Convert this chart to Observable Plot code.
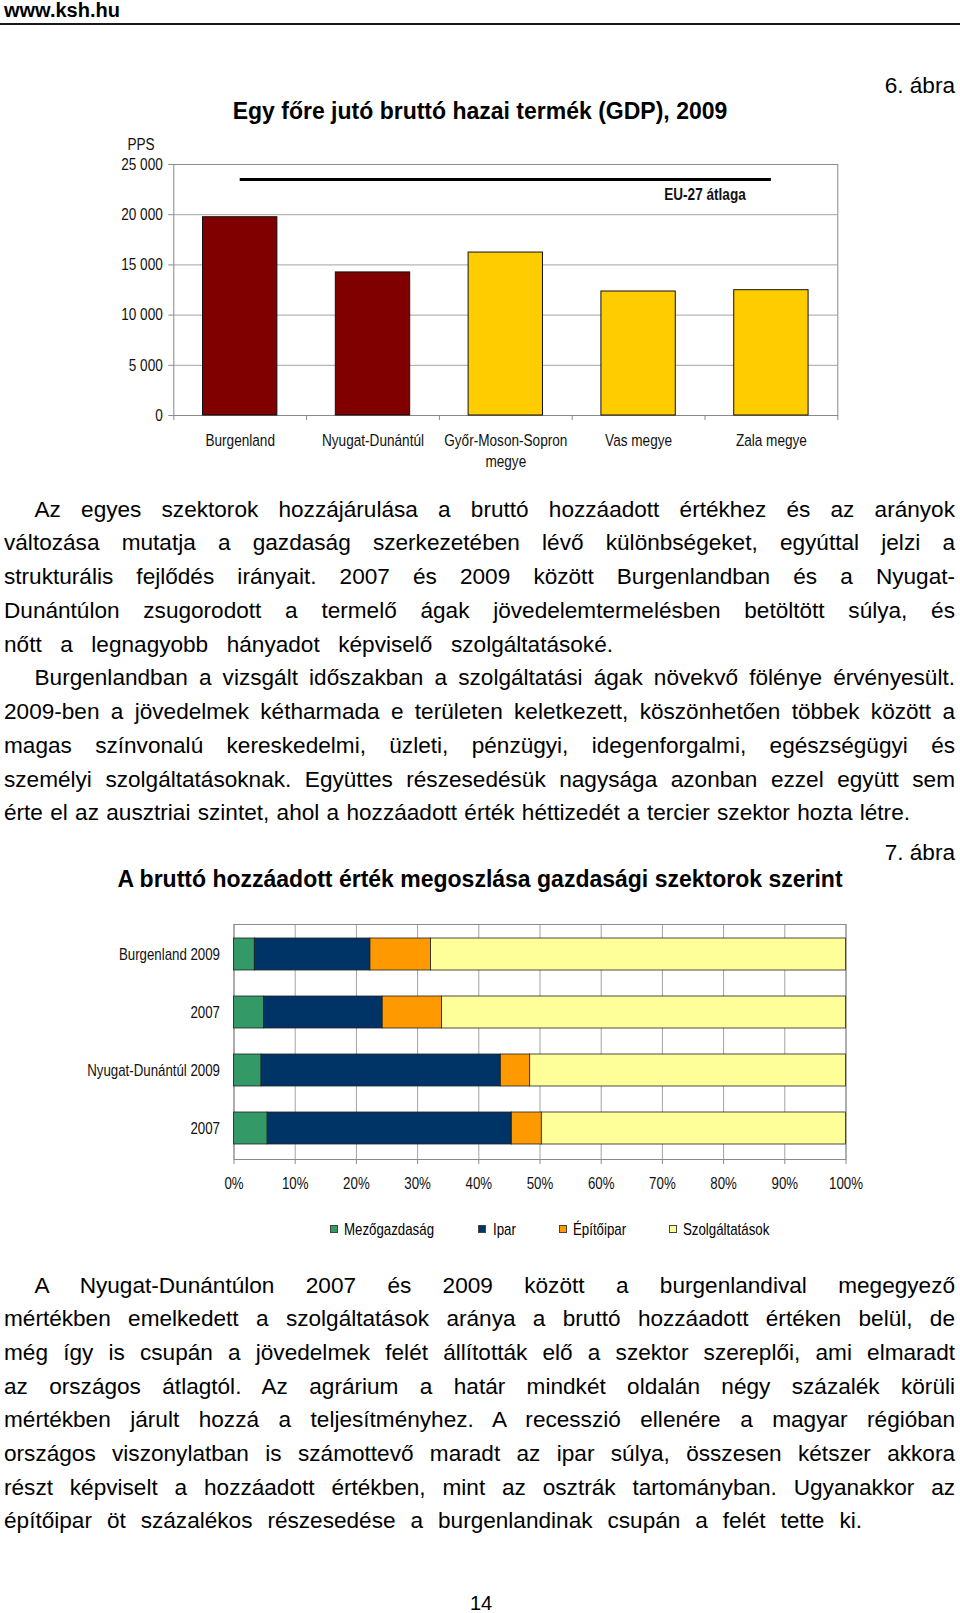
<!DOCTYPE html>
<html><head><meta charset="utf-8">
<script src="https://cdn.jsdelivr.net/npm/d3@7"></script>
<script src="https://cdn.jsdelivr.net/npm/@observablehq/plot@0.6"></script>
<style>
html,body{margin:0;padding:0;background:#fff;}
#page{position:relative;width:960px;height:1613px;overflow:hidden;font-family:"Liberation Sans",Arial,sans-serif;color:#000;}
.t{position:absolute;white-space:pre;line-height:1;}
.chart{position:absolute;left:0;}
.sw{position:absolute;width:6px;height:6px;border:1px solid #444;}
</style></head><body><div id="page"></div>
<script>
// ---------- Chart 1 data: GDP per head, 2009 (PPS) ----------
const gdpCategories = ["Burgenland", "Nyugat-Dunántúl", "Győr-Moson-Sopron\nmegye", "Vas megye", "Zala megye"];
const gdpValues = [19750, 14250, 16230, 12350, 12480];
const gdpLevel = ["region", "region", "county", "county", "county"];
const euAverage = 23500;
const euLabel = "EU-27 átlaga";
const gdpTicks = [0, 5000, 10000, 15000, 20000, 25000];

// ---------- Chart 2 data: gross value added by sector (%) ----------
const sectorNames = ["Mezőgazdaság", "Ipar", "Építőipar", "Szolgáltatások"];
const sectorRows = ["Burgenland 2009", "Burgenland 2007", "Nyugat-Dunántúl 2009", "Nyugat-Dunántúl 2007"];
const sectorRowLabels = ["Burgenland 2009", "2007", "Nyugat-Dunántúl 2009", "2007"];
const agriculture = [3.4, 4.9, 4.5, 5.5];
const industry = [18.9, 19.4, 39.1, 39.9];
const construction = [9.9, 9.7, 4.8, 4.9];
const services = [67.8, 66.0, 51.6, 49.7];
const percentTicks = [0, 10, 20, 30, 40, 50, 60, 70, 80, 90, 100];
const sectorColors = ["#339966", "#003366", "#ff9900", "#ffff99"];

// ---------- Page texts ----------
const paragraph1 = [
  "Az egyes szektorok hozzájárulása a bruttó hozzáadott értékhez és az arányok",
  "változása mutatja a gazdaság szerkezetében lévő különbségeket, egyúttal jelzi a",
  "strukturális fejlődés irányait. 2007 és 2009 között Burgenlandban és a Nyugat-",
  "Dunántúlon zsugorodott a termelő ágak jövedelemtermelésben betöltött súlya, és",
  "nőtt a legnagyobb hányadot képviselő szolgáltatásoké.",
  "Burgenlandban a vizsgált időszakban a szolgáltatási ágak növekvő fölénye érvényesült.",
  "2009-ben a jövedelmek kétharmada e területen keletkezett, köszönhetően többek között a",
  "magas színvonalú kereskedelmi, üzleti, pénzügyi, idegenforgalmi, egészségügyi és",
  "személyi szolgáltatásoknak. Együttes részesedésük nagysága azonban ezzel együtt sem",
  "érte el az ausztriai szintet, ahol a hozzáadott érték héttizedét a tercier szektor hozta létre."
];
const paragraph2 = [
  "A Nyugat-Dunántúlon 2007 és 2009 között a burgenlandival megegyező",
  "mértékben emelkedett a szolgáltatások aránya a bruttó hozzáadott értéken belül, de",
  "még így is csupán a jövedelmek felét állították elő a szektor szereplői, ami elmaradt",
  "az országos átlagtól. Az agrárium a határ mindkét oldalán négy százalék körüli",
  "mértékben járult hozzá a teljesítményhez. A recesszió ellenére a magyar régióban",
  "országos viszonylatban is számottevő maradt az ipar súlya, összesen kétszer akkora",
  "részt képviselt a hozzáadott értékben, mint az osztrák tartományban. Ugyanakkor az",
  "építőipar öt százalékos részesedése a burgenlandinak csupán a felét tette ki."
];

const page = document.getElementById("page");

// narrow font detection (fallback: regular face compressed horizontally)
function fontAvailable(name) {
  const c = document.createElement("canvas").getContext("2d");
  const s = "Nyugat-Dunántúl 2009 abcdefghij";
  c.font = "40px monospace"; const a = c.measureText(s).width;
  c.font = `40px '${name}', monospace`; const b = c.measureText(s).width;
  return Math.abs(a - b) > 0.5;
}
const hasNarrow = fontAvailable("Liberation Sans Narrow");
const narrowFamily = hasNarrow ? "'Liberation Sans Narrow', sans-serif" : "'Liberation Sans', Arial, sans-serif";
const squeeze = hasNarrow ? 1 : 0.82;

function condense(svg, k) {
  if (k === 1) return;
  svg.querySelectorAll("text").forEach(t => {
    const x = parseFloat(t.getAttribute("x")) || 0, y = parseFloat(t.getAttribute("y")) || 0;
    const tr = t.getAttribute("transform") || "";
    t.setAttribute("transform", `${tr} translate(${x},${y}) scale(${k},1) translate(${-x},${-y})`);
  });
}

function addText(str, {x, baseline, size, weight = "normal", anchor = "start", family = null, sx = 1}) {
  const d = document.createElement("div");
  d.className = "t";
  d.textContent = str;
  d.style.fontSize = size + "px";
  d.style.fontWeight = weight;
  if (family) d.style.fontFamily = family;
  d.style.top = (baseline - 0.8465 * size) + "px";
  if (anchor === "start") { d.style.left = x + "px"; if (sx !== 1) { d.style.transformOrigin = "left"; d.style.transform = `scaleX(${sx})`; } }
  else if (anchor === "end") d.style.right = (960 - x) + "px";
  else { d.style.left = x + "px"; d.style.transform = "translateX(-50%)"; }
  page.appendChild(d);
  return d;
}
function fitLine(el, width) {
  const natural = el.getBoundingClientRect().width;
  const spaces = (el.textContent.match(/ /g) || []).length;
  if (spaces) el.style.wordSpacing = ((width - natural) / spaces) + "px";
}

// header
addText("www.ksh.hu", {x: 4, baseline: 17.3, size: 20, weight: "bold"});
const rule = document.createElement("div");
rule.style.cssText = "position:absolute;left:0;top:23.3px;width:960px;height:2px;background:#1a1a1a;";
page.appendChild(rule);
addText("6. ábra", {x: 955, baseline: 94.3, size: 22.6, anchor: "end"});
addText("Egy főre jutó bruttó hazai termék (GDP), 2009", {x: 480, baseline: 119.2, size: 23, weight: "bold", anchor: "middle"});

// ---------- Chart 1 ----------
const gdpData = gdpCategories.map((name, i) => ({name, i, value: gdpValues[i], level: gdpLevel[i]}));
const spaceFmt = d => d3.format(",")(d).replace(/,/g, " ");
const chart1 = Plot.plot({
  width: 960, height: 345,
  marginLeft: 173.3, marginRight: 122.7, marginTop: 34, marginBottom: 60,
  style: {fontFamily: narrowFamily, fontSize: "16.6px", color: "#111", background: "transparent", overflow: "visible"},
  x: {type: "linear", domain: [0, gdpCategories.length], axis: null},
  y: {domain: [0, 25000], axis: null},
  marks: [
    Plot.gridY(gdpTicks, {stroke: "#a3a3a3", strokeOpacity: 1}),
    Plot.frame({stroke: "#8a8a8a"}),
    Plot.rect(gdpData, {
      x1: d => d.i + 0.22, x2: d => d.i + 0.78, y1: () => 0, y2: "value",
      fill: d => d.level === "region" ? "#800000" : "#ffcc00",
      stroke: "#111", strokeWidth: 1
    }),
    Plot.ruleY([euAverage], {x1: () => 0.5, x2: () => gdpCategories.length - 0.5, stroke: "#000", strokeWidth: 3}),
    Plot.text([euLabel], {x: () => gdpCategories.length - 1, y: () => euAverage, text: d => d, dy: 15, fontWeight: "bold", textAnchor: "middle"}),
    Plot.axisY({ticks: gdpTicks, tickSize: 5, tickPadding: 6, tickFormat: spaceFmt, stroke: "#8a8a8a", label: null}),
    Plot.axisX({ticks: d3.range(0, gdpCategories.length + 1), tickSize: 5, tickFormat: () => "", stroke: "#8a8a8a", label: null}),
    Plot.text(gdpData, {x: d => d.i + 0.5, frameAnchor: "bottom", text: "name", lineAnchor: "top", dy: 15, lineHeight: 1.3}),
    Plot.text(["PPS"], {frameAnchor: "top-left", text: d => d, dx: -32.8, dy: -26.5, textAnchor: "middle"})
  ]
});
condense(chart1, squeeze);
chart1.classList.add("chart");
chart1.style.top = "130px";
page.appendChild(chart1);

// ---------- Text paragraph 1 ----------
{
  const base = 517.9, step = 33.72;
  const indent = new Set([0, 5]);
  const ends = {4: 613, 9: 910};
  paragraph1.forEach((line, k) => {
    const x = indent.has(k) ? 34.5 : 4;
    const el = addText(line, {x, baseline: base + k * step, size: 22.6});
    fitLine(el, (ends[k] ?? 955) - x);
  });
}

// ---------- Chart 2 ----------
addText("7. ábra", {x: 955, baseline: 861.6, size: 22.6, anchor: "end"});
addText("A bruttó hozzáadott érték megoszlása gazdasági szektorok szerint", {x: 480, baseline: 887, size: 23, weight: "bold", anchor: "middle"});

const sectorSeries = [agriculture, industry, construction, services];
const sectorData = [];
sectorRows.forEach((row, r) => sectorNames.forEach((sector, k) => sectorData.push({row, sector, value: sectorSeries[k][r]})));
const chart2 = Plot.plot({
  width: 960, height: 300,
  marginLeft: 233.5, marginRight: 114.5, marginTop: 24, marginBottom: 41,
  style: {fontFamily: narrowFamily, fontSize: "16.2px", color: "#111", background: "transparent", overflow: "visible"},
  x: {domain: [0, 100], axis: null},
  y: {domain: sectorRows, paddingInner: 0.44, paddingOuter: 0.22, axis: null},
  color: {domain: sectorNames, range: sectorColors},
  marks: [
    Plot.gridX(percentTicks, {stroke: "#a3a3a3", strokeOpacity: 1}),
    Plot.frame({stroke: "#8a8a8a"}),
    Plot.barX(sectorData, Plot.stackX({x: "value", y: "row", fill: "sector", stroke: "#222", strokeWidth: 0.8})),
    Plot.axisX({ticks: percentTicks, tickSize: 5, tickPadding: 12.5, tickFormat: d => d + "%", stroke: "#8a8a8a", label: null}),
    Plot.axisY({tickSize: 0, tickPadding: 14, tickFormat: d => sectorRowLabels[sectorRows.indexOf(d)], label: null})
  ]
});
condense(chart2, squeeze);
chart2.classList.add("chart");
chart2.style.top = "900px";
page.appendChild(chart2);

// legend (HTML)
{
  const swatchX = [329.7, 478, 558.5, 668.7];
  sectorNames.forEach((name, k) => {
    const s = document.createElement("div");
    s.className = "sw";
    s.style.left = swatchX[k] + "px";
    s.style.top = "1225px";
    s.style.background = sectorColors[k];
    page.appendChild(s);
    addText(name, {x: swatchX[k] + 14.5, baseline: 1235, size: 16.2, family: narrowFamily, sx: squeeze});
  });
}

// ---------- Text paragraph 2 ----------
{
  const base = 1293.7, step = 33.66;
  const ends = {7: 862};
  paragraph2.forEach((line, k) => {
    const x = k === 0 ? 34.5 : 4;
    const el = addText(line, {x, baseline: base + k * step, size: 22.6});
    fitLine(el, (ends[k] ?? 955) - x);
  });
}

// page number
addText("14", {x: 481, baseline: 1609.5, size: 20, anchor: "middle"});
</script>
</body></html>
